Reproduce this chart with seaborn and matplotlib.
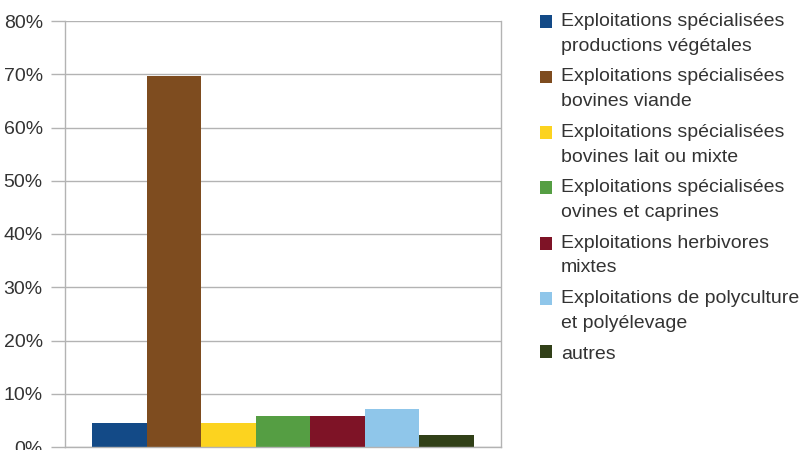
import matplotlib
matplotlib.use("Agg")
import matplotlib.pyplot as plt
import seaborn as sns
import pandas as pd
from matplotlib.ticker import FuncFormatter, MultipleLocator
from matplotlib.legend_handler import HandlerPatch
from matplotlib.patches import Rectangle

categories = [
    "Exploitations spécialisées\nproductions végétales",
    "Exploitations spécialisées\nbovines viande",
    "Exploitations spécialisées\nbovines lait ou mixte",
    "Exploitations spécialisées\novines et caprines",
    "Exploitations herbivores\nmixtes",
    "Exploitations de polyculture\net polyélevage",
    "autres",
]
values = [4.6, 69.7, 4.6, 5.8, 5.8, 7.2, 2.3]
colors = ["#134a87", "#7e4c1f", "#fcd31f", "#559e43", "#7e1326", "#8fc6ea", "#314018"]

df = pd.DataFrame({"grp": [""] * len(categories), "cat": categories, "val": values})

sns.set_theme(style="white")
plt.rcParams["font.family"] = ["Liberation Sans", "DejaVu Sans"]

fig = plt.figure(figsize=(8.04, 4.5), dpi=100)
ax = fig.add_axes([65 / 804, 3 / 450, (501 - 65) / 804, (447 - 21) / 450])

sns.barplot(data=df, x="grp", y="val", hue="cat", hue_order=categories,
            palette=colors, saturation=1, width=0.876, dodge=True, ax=ax,
            linewidth=0, errorbar=None)

ax.set_xlim(-0.5, 0.5)
ax.set_ylim(0, 80)
ax.yaxis.set_major_locator(MultipleLocator(10))
ax.yaxis.set_major_formatter(FuncFormatter(lambda v, p: f"{int(round(v))}%"))
ax.set_xlabel("")
ax.set_ylabel("")
ax.set_xticks([])
ax.grid(axis="y", color="#b3b3b3", linewidth=1)
ax.set_axisbelow(True)
ax.tick_params(axis="y", length=10, width=1, color="#b3b3b3",
               labelsize=14, pad=6, left=True, labelcolor="#333333")
for s in ["left", "right", "bottom"]:
    ax.spines[s].set_visible(True)
    ax.spines[s].set_color("#b3b3b3")
    ax.spines[s].set_linewidth(1)
ax.spines["top"].set_visible(False)

handles, labels = ax.get_legend_handles_labels()
if ax.get_legend() is not None:
    ax.get_legend().remove()


def make_handler(shift):
    def patch_func(legend, orig_handle, xdescent, ydescent, width, height, fontsize):
        return Rectangle((-xdescent, -ydescent + shift), width, height,
                         facecolor=orig_handle.get_facecolor(), edgecolor="none")
    return HandlerPatch(patch_func=patch_func)


handler_map = {h: make_handler(8.6 if "\n" in l else 0.0) for h, l in zip(handles, labels)}

leg = ax.legend(handles, labels, handler_map=handler_map,
                loc="upper left", bbox_to_anchor=(540 / 804, 1 - 13 / 450),
                bbox_transform=fig.transFigure, frameon=False, fontsize=14,
                handlelength=0.64, handleheight=0.64, handletextpad=0.43,
                labelspacing=0.7, borderaxespad=0, borderpad=0)
for t in leg.get_texts():
    t.set_color("#333333")
    t.set_linespacing(1.6)

fig.savefig("out.png", dpi=100)
